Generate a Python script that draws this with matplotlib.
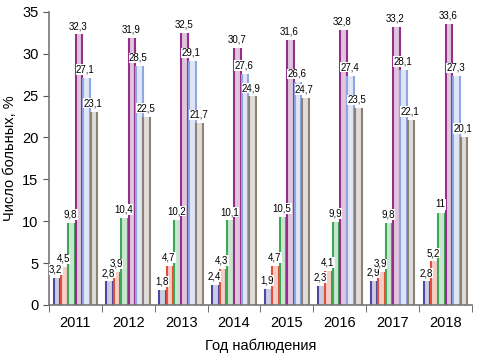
import matplotlib
matplotlib.use("Agg")
import matplotlib.pyplot as plt
import numpy as np
from matplotlib.colors import to_rgb

years = ["2011", "2012", "2013", "2014", "2015", "2016", "2017", "2018"]
s1 = [3.2, 2.8, 1.8, 2.4, 1.9, 2.3, 2.9, 2.8]
s2 = [4.5, 3.9, 4.7, 4.3, 4.7, 4.1, 3.9, 5.2]
s3 = [9.8, 10.4, 10.2, 10.1, 10.5, 9.9, 9.8, 11]
s4 = [32.3, 31.9, 32.5, 30.7, 31.6, 32.8, 33.2, 33.6]
s5 = [27.1, 28.5, 29.1, 27.6, 26.6, 27.4, 28.1, 27.3]
s6 = [23.1, 22.5, 21.7, 24.9, 24.7, 23.5, 22.1, 20.1]
series = [s1, s2, s3, s4, s5, s6]
colors = ["#4a4aa0", "#e0503a", "#3fa858", "#952f8a", "#8fa6e0", "#8c8276"]


def fmt(v):
    return f"{v:g}".replace(".", ",")


def lighten(c, amt):
    r, g, b = to_rgb(c)
    return (r + (1 - r) * amt, g + (1 - g) * amt, b + (1 - b) * amt)


plt.rcParams["font.family"] = ["Liberation Sans", "DejaVu Sans"]

fig = plt.figure(figsize=(4.8, 3.6), dpi=100)
ax = fig.add_axes([0.102, 0.153, 0.881, 0.814])

x = np.arange(len(years))
w = 0.14
bw = w * 0.9
n = len(series)
for i, (vals, col) in enumerate(zip(series, colors)):
    pos = x + (i - (n - 1) / 2) * w
    ax.bar(pos, vals, bw, color=lighten(col, 0.72), linewidth=0, zorder=2)
    ax.vlines(pos - bw / 2, 0, vals, color=col, linewidth=1.5, zorder=2)
    ax.vlines(pos + bw / 2, 0, vals, color=col, linewidth=1.5, zorder=2)
    for p, v in zip(pos, vals):
        ax.text(p - 0.02, v + 0.4, fmt(v), ha="center", va="bottom",
                fontsize=7, zorder=3,
                bbox=dict(facecolor="white", edgecolor="none", pad=0.2))

ax.set_xlim(-0.5, len(years) - 0.5)
ax.set_ylim(0, 35)
ax.set_yticks(range(0, 36, 5))
ax.set_xticks(x)
ax.set_xticklabels(years, fontsize=10.5)
ax.set_xticks(np.arange(-0.5, len(years), 1), minor=True)
ax.tick_params(axis="x", which="major", length=0, pad=8)
ax.tick_params(axis="x", which="minor", length=5, color="#555555", direction="out")
ax.tick_params(axis="y", labelsize=10.5, length=4, color="#555555")
for s in ["top", "right"]:
    ax.spines[s].set_visible(False)
for s in ["left", "bottom"]:
    ax.spines[s].set_color("#777777")
    ax.spines[s].set_linewidth(1.2)

ax.set_ylabel("Число больных, %", fontsize=10.5)
ax.set_xlabel("Год наблюдения", fontsize=10.5, labelpad=6)

fig.savefig("out.png", dpi=100)
